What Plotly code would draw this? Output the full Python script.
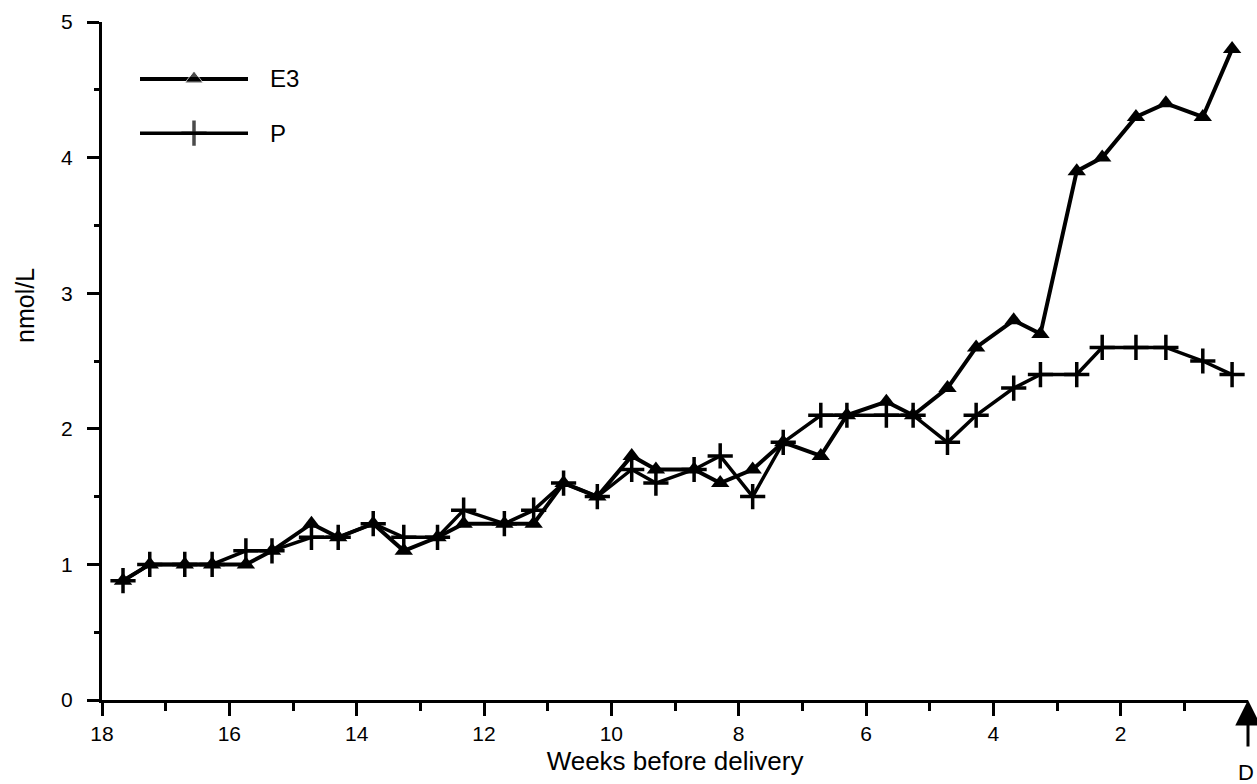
import plotly.graph_objects as go

# ---- data ----
weeks = [17.67, 17.25, 16.70, 16.27, 15.74, 15.33, 14.71, 14.29, 13.74, 13.26,
         12.73, 12.32, 11.68, 11.22, 10.75, 10.22, 9.68, 9.30, 8.70, 8.29,
         7.78, 7.30, 6.71, 6.30, 5.68, 5.26, 4.72, 4.27, 3.68, 3.26,
         2.69, 2.29, 1.76, 1.29, 0.71, 0.25]
e3 = [0.88, 1.0, 1.0, 1.0, 1.0, 1.1, 1.3, 1.2, 1.3, 1.1,
      1.2, 1.3, 1.3, 1.3, 1.6, 1.5, 1.8, 1.7, 1.7, 1.6,
      1.7, 1.9, 1.8, 2.1, 2.2, 2.1, 2.3, 2.6, 2.8, 2.7,
      3.9, 4.0, 4.3, 4.4, 4.3, 4.8]
p = [0.88, 1.0, 1.0, 1.0, 1.1, 1.1, 1.2, 1.2, 1.3, 1.2,
     1.2, 1.4, 1.3, 1.4, 1.6, 1.5, 1.7, 1.6, 1.7, 1.8,
     1.5, 1.9, 2.1, 2.1, 2.1, 2.1, 1.9, 2.1, 2.3, 2.4,
     2.4, 2.6, 2.6, 2.6, 2.5, 2.4]
x_major = [18, 16, 14, 12, 10, 8, 6, 4, 2]
x_minor = [17, 15, 13, 11, 9, 7, 5, 3, 1]
y_major = [0, 1, 2, 3, 4, 5]
y_minor = [0.5, 1.5, 2.5, 3.5, 4.5]
series_names = ["E3", "P"]

FONT = "Liberation Sans, Arial, Helvetica, sans-serif"
W, H = 1257, 784
L, R, T, B = 102, 9, 22, 84

TRI = dict(symbol="triangle-up", size=16, color="black")
CROSS = dict(symbol="cross-thin", size=18, color="black",
             line=dict(color="black", width=3.5))

fig = go.Figure()

fig.add_trace(go.Scatter(
    x=weeks, y=e3, mode="lines+markers", name=series_names[0],
    line=dict(color="black", width=4), marker=TRI,
    cliponaxis=False, showlegend=False))
fig.add_trace(go.Scatter(
    x=weeks, y=p, mode="lines+markers", name=series_names[1],
    line=dict(color="black", width=3.5), marker=CROSS,
    cliponaxis=False, showlegend=False))

# ---- legend keys drawn on a hidden helper axis ----
key_x = [0, 0.5, 1]
fig.add_trace(go.Scatter(
    x=key_x, y=[0.916] * 3, xaxis="x2", yaxis="y2", mode="lines+markers",
    line=dict(color="black", width=4),
    marker=dict(TRI, size=[0, 16, 0]),
    showlegend=False, hoverinfo="skip"))
fig.add_trace(go.Scatter(
    x=key_x, y=[0.836] * 3, xaxis="x2", yaxis="y2", mode="lines+markers",
    line=dict(color="black", width=3.5),
    marker=dict(CROSS, size=[0, 18, 0]),
    showlegend=False, hoverinfo="skip"))

pw = W - L - R
ph = H - T - B

annotations = [
    dict(text=series_names[0], xref="paper", yref="y2", x=(268 - L) / pw, y=0.916,
         xanchor="left", yanchor="middle", showarrow=False,
         font=dict(family=FONT, size=24, color="black")),
    dict(text=series_names[1], xref="paper", yref="y2", x=(268 - L) / pw, y=0.836,
         xanchor="left", yanchor="middle", showarrow=False,
         font=dict(family=FONT, size=24, color="black")),
    dict(text="nmol/L", xref="paper", yref="paper", x=(25 - L) / pw,
         y=(700 - 306) / ph, textangle=-90, showarrow=False,
         xanchor="center", yanchor="middle",
         font=dict(family=FONT, size=25, color="black")),
    # delivery marker arrow (head at x = 0 on the axis)
    dict(text="", x=0, y=0, xref="x", yref="y", showarrow=True,
         ax=0, ay=48, arrowhead=2, arrowsize=1.7, arrowwidth=3,
         arrowcolor="black", standoff=0),
    dict(text="D", xref="paper", yref="paper", x=(1256 - L) / pw,
         y=-(773 - 700) / ph, xanchor="right", yanchor="middle",
         showarrow=False, font=dict(family=FONT, size=22, color="black")),
]

fig.update_layout(
    width=W, height=H,
    margin=dict(l=L, r=R, t=T, b=B, pad=0),
    paper_bgcolor="white", plot_bgcolor="rgba(0,0,0,0)",
    showlegend=False,
    font=dict(family=FONT, color="black"),
    xaxis=dict(
        range=[18, 0], showgrid=False, zeroline=False,
        showline=True, linecolor="black", linewidth=3,
        tickmode="array", tickvals=x_major, ticktext=[str(v) for v in x_major],
        ticks="outside", ticklen=13, tickwidth=3, tickcolor="black",
        tickfont=dict(family=FONT, size=21, color="black"),
        minor=dict(tickmode="array", tickvals=x_minor, ticks="outside",
                   ticklen=8, tickwidth=3, tickcolor="black"),
        title=dict(text="Weeks before delivery", standoff=8,
                   font=dict(family=FONT, size=26, color="black")),
    ),
    yaxis=dict(
        range=[0, 5], showgrid=False, zeroline=False,
        showline=True, linecolor="black", linewidth=3,
        tickmode="array", tickvals=y_major, ticktext=[str(v) for v in y_major],
        ticks="outside", ticklen=12, tickwidth=3, tickcolor="black",
        ticklabelstandoff=10,
        tickfont=dict(family=FONT, size=21, color="black"),
        minor=dict(tickmode="array", tickvals=y_minor, ticks="outside",
                   ticklen=5, tickwidth=3, tickcolor="black"),
    ),
    xaxis2=dict(domain=[(140 - L) / pw, (248 - L) / pw], range=[0, 1],
                visible=False, anchor="y2", fixedrange=True),
    yaxis2=dict(domain=[0, 1], range=[0, 1], visible=False,
                anchor="x2", overlaying="y", fixedrange=True),
    annotations=annotations,
)

fig.write_html("out.html")
